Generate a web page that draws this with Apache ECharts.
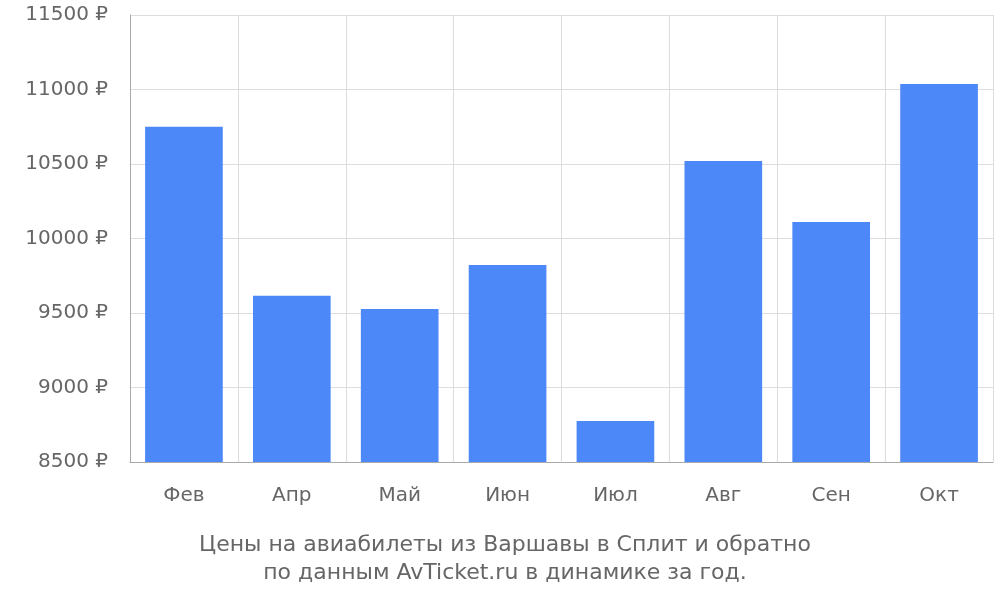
<!DOCTYPE html>
<html><head><meta charset="utf-8">
<script src="https://cdn.jsdelivr.net/npm/echarts@6/dist/echarts.min.js"></script>
<style>html,body{margin:0;padding:0;background:#fff}#c{width:1000px;height:600px}</style>
</head><body><div id="c"></div>
<script>
const categories = ['Фев','Апр','Май','Июн','Июл','Авг','Сен','Окт'];
const prices = [10750, 9615, 9527, 9822, 8775, 10520, 10111, 11037];
const chart = echarts.init(document.getElementById('c'));
chart.setOption({
  animation: false,
  title: {
    text: 'Цены на авиабилеты из Варшавы в Сплит и обратно\nпо данным AvTicket.ru в динамике за год.',
    left: 500, textAlign: 'center', bottom: 8,
    textStyle: {color: '#666', fontSize: 22, fontWeight: 'normal', fontFamily: 'DejaVu Sans', lineHeight: 28}
  },
  grid: {left: 130, right: 7, top: 15, bottom: 138},
  xAxis: {
    type: 'category', data: categories,
    axisLine: {lineStyle: {color: '#aaa'}},
    axisTick: {length: 18, lineStyle: {color: '#ccc'}},
    splitLine: {show: true, lineStyle: {color: '#ddd'}},
    axisLabel: {color: '#666', fontSize: 20, fontFamily: 'DejaVu Sans', margin: 24}
  },
  yAxis: {
    type: 'value', min: 8500, max: 11500, interval: 500,
    axisLine: {show: true, lineStyle: {color: '#aaa'}},
    axisTick: {show: false},
    splitLine: {lineStyle: {color: '#ddd'}},
    axisLabel: {color: '#666', fontSize: 20, fontFamily: 'DejaVu Sans', margin: 22, formatter: v => v + ' ₽'}
  },
  series: [{type: 'bar', data: prices, barCategoryGap: '28%', itemStyle: {color: '#4d88f9'}}]
});
</script></body></html>
